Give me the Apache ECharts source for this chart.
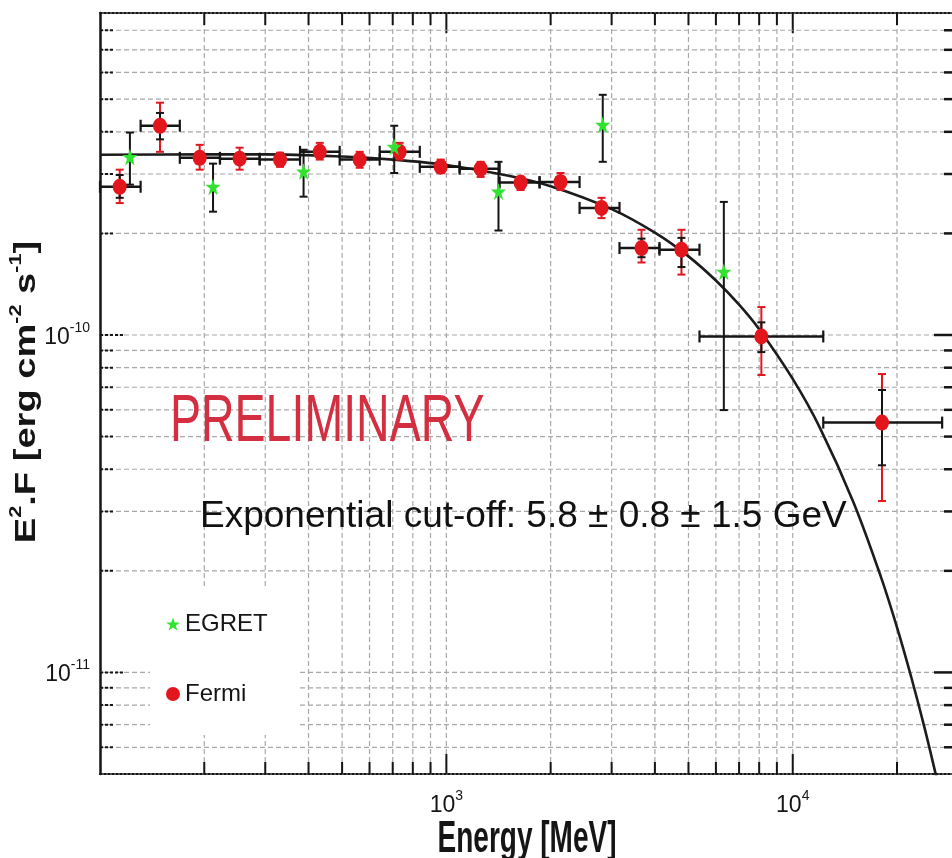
<!DOCTYPE html>
<html>
<head>
<meta charset="utf-8">
<script src="https://cdn.jsdelivr.net/npm/echarts@6/dist/echarts.min.js"></script>
<style>
  html, body { margin: 0; padding: 0; background: #ffffff; }
  #chart { width: 952px; height: 858px; }
</style>
</head>
<body>
<div id="chart"></div>
<script>
// ---- Fermi spectral points (MeV, erg cm^-2 s^-1) ----
const fermiEnergy   = [114, 149, 194, 253, 331, 431, 562, 733, 963, 1256, 1638, 2136, 2805, 3659, 4772, 8117, 18100];
const fermiBinLow   = [100, 131, 170, 222, 289, 378, 492, 642, 838, 1092, 1425, 1858, 2424, 3161, 4123, 5380, 12250];
const fermiBinHigh  = [131, 170, 222, 289, 378, 492, 642, 838, 1092, 1425, 1858, 2424, 3161, 4123, 5380, 12250, 27000];
const fermiFlux     = [2.75e-10, 4.17e-10, 3.35e-10, 3.33e-10, 3.31e-10, 3.49e-10, 3.31e-10, 3.49e-10, 3.15e-10, 3.11e-10, 2.83e-10, 2.84e-10, 2.38e-10, 1.81e-10, 1.79e-10, 9.9e-11, 5.5e-11];
const fermiStatLow  = [2.55e-10, 3.80e-10, 3.22e-10, 3.22e-10, 3.23e-10, 3.40e-10, 3.22e-10, 3.40e-10, 3.07e-10, 3.02e-10, 2.76e-10, 2.76e-10, 2.30e-10, 1.70e-10, 1.59e-10, 8.9e-11, 4.11e-11];
const fermiStatHigh = [2.98e-10, 4.55e-10, 3.48e-10, 3.45e-10, 3.39e-10, 3.58e-10, 3.40e-10, 3.58e-10, 3.24e-10, 3.20e-10, 2.90e-10, 2.92e-10, 2.46e-10, 1.93e-10, 1.94e-10, 1.09e-10, 6.87e-11];
const fermiSysLow   = [2.46e-10, 3.49e-10, 3.09e-10, 3.09e-10, 3.15e-10, 3.31e-10, 3.13e-10, 3.31e-10, 3.02e-10, 2.94e-10, 2.69e-10, 2.69e-10, 2.22e-10, 1.64e-10, 1.51e-10, 7.61e-11, 3.22e-11];
const fermiSysHigh  = [3.09e-10, 4.88e-10, 3.66e-10, 3.59e-10, 3.47e-10, 3.71e-10, 3.49e-10, 3.71e-10, 3.31e-10, 3.26e-10, 2.94e-10, 3.02e-10, 2.55e-10, 2.05e-10, 2.05e-10, 1.21e-10, 7.66e-11];

// ---- EGRET points ----
const egretEnergy = [122, 212, 387, 707, 1414, 2828, 6325];
const egretFlux   = [3.37e-10, 2.75e-10, 3.05e-10, 3.61e-10, 2.66e-10, 4.20e-10, 1.54e-10];
const egretLow    = [2.79e-10, 2.32e-10, 2.57e-10, 3.02e-10, 2.04e-10, 3.26e-10, 5.99e-11];
const egretHigh   = [3.98e-10, 3.22e-10, 3.54e-10, 4.17e-10, 3.26e-10, 5.15e-10, 2.48e-10];

// ---- fitted power law with exponential cut-off ----
const modelEnergy = [100, 200, 300, 500, 700, 1000, 1500, 2000, 3000, 4000, 5000, 6000, 7000, 8000, 10000, 12000, 15000, 18000, 20000, 22000, 24000, 26000];
const modelFlux   = [3.42e-10, 3.43e-10, 3.43e-10, 3.38e-10, 3.31e-10, 3.19e-10, 2.97e-10, 2.76e-10, 2.36e-10, 2.01e-10, 1.71e-10, 1.45e-10, 1.23e-10, 1.04e-10, 7.41e-11, 5.29e-11, 3.18e-11, 1.91e-11, 1.36e-11, 9.66e-12, 6.87e-12, 4.88e-12];

// ---- axes: ranges, decade labels, minor grid positions ----
const xRange = [100, 30000];
const yRange = [5e-12, 9e-10];
const xDecades = [1000, 10000];
const xDecadeExp = ['3', '4'];
const yDecades = [1e-11, 1e-10];
const yDecadeExp = ['-11', '-10'];
const xMinor = [200, 300, 400, 500, 600, 700, 800, 900, 2000, 3000, 4000, 5000, 6000, 7000, 8000, 9000, 20000];
const yMinor = [6e-12, 7e-12, 8e-12, 9e-12, 2e-11, 3e-11, 4e-11, 5e-11, 6e-11, 7e-11, 8e-11, 9e-11, 2e-10, 3e-10, 4e-10, 5e-10, 6e-10, 7e-10, 8e-10];

const SANS = "'Liberation Sans', Arial, Helvetica, sans-serif";
const STAR = 'path://M50,0 L61.8,35.4 L99,35.4 L69,57.3 L80.4,92.7 L50,70.8 L19.6,92.7 L31,57.3 L1,35.4 L38.2,35.4 Z';
const RED = '#e3161e';
const GREEN = '#2fe32f';
const GRID = '#a8a8a8';
const INK = '#151515';

function decadeLabel(values, exps) {
  return function (v) {
    for (let i = 0; i < values.length; i++) {
      if (Math.abs(Math.log10(v) - Math.log10(values[i])) < 1e-6) {
        return '{b|10}{s|' + exps[i] + '}';
      }
    }
    return '';
  };
}
const labelRich = {
  b: { fontFamily: SANS, fontSize: 23, color: INK, lineHeight: 28, verticalAlign: 'bottom' },
  s: { fontFamily: SANS, fontSize: 14, color: INK, lineHeight: 28, verticalAlign: 'top' }
};

// grid lines + frame ticks
const xGridRows = xDecades.map(v => [v, 1e-10, 1]).concat(xMinor.map(v => [v, 1e-10, 0]));
const yGridRows = yDecades.map(v => [1000, v, 1]).concat(yMinor.map(v => [1000, v, 0]));

function xGridItem(params, api) {
  const cs = params.coordSys;
  const px = api.coord([api.value(0), api.value(1)])[0];
  const len = api.value(2) === 1 ? 20 : 12;
  const top = cs.y, bot = cs.y + cs.height;
  return {
    type: 'group',
    children: [
      { type: 'line', shape: { x1: px, y1: top, x2: px, y2: bot }, style: { stroke: GRID, lineWidth: 1.2, lineDash: [5, 3] } },
      { type: 'line', shape: { x1: px, y1: top, x2: px, y2: top + len }, style: { stroke: INK, lineWidth: 2 } },
      { type: 'line', shape: { x1: px, y1: bot, x2: px, y2: bot - len }, style: { stroke: INK, lineWidth: 2 } }
    ]
  };
}
function yGridItem(params, api) {
  const cs = params.coordSys;
  const py = api.coord([api.value(0), api.value(1)])[1];
  const len = api.value(2) === 1 ? 24 : 14;
  const left = cs.x, right = cs.x + cs.width;
  return {
    type: 'group',
    children: [
      { type: 'line', shape: { x1: left, y1: py, x2: right, y2: py }, style: { stroke: GRID, lineWidth: 1.2, lineDash: [5, 3] } },
      { type: 'line', shape: { x1: left, y1: py, x2: left + len, y2: py }, style: { stroke: INK, lineWidth: 2, lineDash: [3, 2] } },
      { type: 'line', shape: { x1: right, y1: py, x2: right - len, y2: py }, style: { stroke: INK, lineWidth: 2.5 } }
    ]
  };
}

// error bars
const fermiRows = fermiEnergy.map((e, i) => [e, fermiFlux[i], fermiBinLow[i], fermiBinHigh[i], fermiStatLow[i], fermiStatHigh[i], fermiSysLow[i], fermiSysHigh[i]]);
const egretRows = egretEnergy.map((e, i) => [e, egretFlux[i], egretLow[i], egretHigh[i]]);

function seg(x1, y1, x2, y2, color, w) {
  return { type: 'line', shape: { x1, y1, x2, y2 }, style: { stroke: color, lineWidth: w } };
}
function vbar(x, yA, yB, color, cap) {
  return [seg(x, yA, x, yB, color, 2), seg(x - cap, yA, x + cap, yA, color, 2), seg(x - cap, yB, x + cap, yB, color, 2)];
}
function fermiErrItem(params, api) {
  const E = api.value(0), F = api.value(1);
  const l = api.coord([api.value(2), F]);
  const r = api.coord([api.value(3), F]);
  const stA = api.coord([E, api.value(4)]), stB = api.coord([E, api.value(5)]);
  const syA = api.coord([E, api.value(6)]), syB = api.coord([E, api.value(7)]);
  const x = stA[0];
  const children = [
    seg(l[0], l[1], r[0], r[1], INK, 2.5),
    seg(l[0], l[1] - 6, l[0], l[1] + 6, INK, 2.2),
    seg(r[0], r[1] - 6, r[0], r[1] + 6, INK, 2.2)
  ].concat(vbar(x, syA[1], syB[1], RED, 4)).concat(vbar(x, stA[1], stB[1], INK, 4));
  return { type: 'group', children };
}
function egretErrItem(params, api) {
  const E = api.value(0);
  const a = api.coord([E, api.value(2)]), b = api.coord([E, api.value(3)]);
  return { type: 'group', children: vbar(a[0], a[1], b[1], INK, 4) };
}

const chart = echarts.init(document.getElementById('chart'), null, { renderer: 'canvas' });

chart.setOption({
  backgroundColor: '#ffffff',
  animation: false,
  grid: { left: 100, top: 13, right: -6, bottom: 84, containLabel: false, outerBoundsMode: 'none' },
  legend: {
    orient: 'vertical',
    left: 150, top: 588,
    padding: [21, 30, 26, 16],
    backgroundColor: '#ffffff',
    itemWidth: 14, itemHeight: 16, itemGap: 40,
    selectedMode: false,
    textStyle: { fontFamily: SANS, fontSize: 24, color: INK, lineHeight: 30 },
    data: [{ name: 'EGRET', icon: STAR }, { name: 'Fermi', icon: 'circle' }]
  },
  xAxis: [
    {
      type: 'log', logBase: 10, min: xRange[0], max: xRange[1], position: 'bottom',
      axisLine: { show: true, lineStyle: { color: INK, width: 2, type: 'dotted' } },
      axisTick: { show: false }, splitLine: { show: false }, minorTick: { show: false },
      axisLabel: { margin: 15, formatter: decadeLabel(xDecades, xDecadeExp), rich: labelRich }
    },
    {
      type: 'log', logBase: 10, min: xRange[0], max: xRange[1], position: 'top',
      axisLine: { show: true, lineStyle: { color: INK, width: 2, type: 'dotted' } },
      axisTick: { show: false }, splitLine: { show: false }, axisLabel: { show: false }
    }
  ],
  yAxis: [
    {
      type: 'log', logBase: 10, min: yRange[0], max: yRange[1], position: 'left',
      axisLine: { show: true, lineStyle: { color: INK, width: 2.5 } },
      axisTick: { show: false }, splitLine: { show: false }, minorTick: { show: false },
      axisLabel: { margin: 10, formatter: decadeLabel(yDecades, yDecadeExp), rich: labelRich }
    },
    {
      type: 'log', logBase: 10, min: yRange[0], max: yRange[1], position: 'right',
      axisLine: { show: true, lineStyle: { color: INK, width: 2 } },
      axisTick: { show: false }, splitLine: { show: false }, axisLabel: { show: false }
    }
  ],
  series: [
    { type: 'custom', name: 'xgrid', silent: true, z: 1, clip: false, data: xGridRows, encode: { x: 0, y: 1 }, renderItem: xGridItem },
    { type: 'custom', name: 'ygrid', silent: true, z: 1, clip: false, data: yGridRows, encode: { x: 0, y: 1 }, renderItem: yGridItem },
    {
      type: 'line', name: 'fit', z: 3, silent: true, clip: true, smooth: 0.35,
      showSymbol: false, symbol: 'none',
      lineStyle: { color: '#1c1c1c', width: 2.6 },
      data: modelEnergy.map((e, i) => [e, modelFlux[i]])
    },
    { type: 'custom', name: 'fermiErr', silent: true, z: 4, data: fermiRows, encode: { x: 0, y: 1 }, renderItem: fermiErrItem },
    { type: 'custom', name: 'egretErr', silent: true, z: 4, data: egretRows, encode: { x: 0, y: 1 }, renderItem: egretErrItem },
    {
      type: 'scatter', name: 'Fermi', z: 5, symbol: 'circle', symbolSize: [14, 16],
      itemStyle: { color: RED, opacity: 1 },
      data: fermiEnergy.map((e, i) => [e, fermiFlux[i]])
    },
    {
      type: 'scatter', name: 'EGRET', z: 5, symbol: STAR, symbolSize: [15, 17],
      itemStyle: { color: GREEN, opacity: 1 },
      data: egretEnergy.map((e, i) => [e, egretFlux[i]])
    }
  ],
  graphic: [
    {
      type: 'text', x: 170, y: 423, scaleY: 1.43, z: 20,
      style: { text: 'PRELIMINARY', fontFamily: SANS, fontSize: 46.5, fill: '#d42f40', align: 'left', verticalAlign: 'middle' }
    },
    {
      type: 'text', x: 200, y: 517, z: 20,
      style: { text: 'Exponential cut-off: 5.8 \u00b1 0.8 \u00b1 1.5 GeV', fontFamily: SANS, fontSize: 37, fill: '#111111', align: 'left', verticalAlign: 'middle' }
    },
    {
      type: 'text', x: 527, y: 840, scaleY: 1.6, z: 20,
      style: { text: 'Energy [MeV]', fontFamily: SANS, fontWeight: 'bold', fontSize: 28, fill: INK, align: 'center', verticalAlign: 'middle' }
    },
    {
      type: 'text', x: 25, y: 392, rotation: Math.PI / 2, scaleX: 1.27, z: 20,
      style: {
        text: '{b|E}{s|2}{b|.F [erg cm}{s|-2}{b| s}{s|-1}{b|]}',
        align: 'center', verticalAlign: 'middle',
        rich: {
          b: { fontFamily: SANS, fontWeight: 'bold', fontSize: 30, fill: INK, lineHeight: 34, verticalAlign: 'bottom' },
          s: { fontFamily: SANS, fontWeight: 'bold', fontSize: 17, fill: INK, lineHeight: 34, verticalAlign: 'top' }
        }
      }
    }
  ]
});
</script>
</body>
</html>
